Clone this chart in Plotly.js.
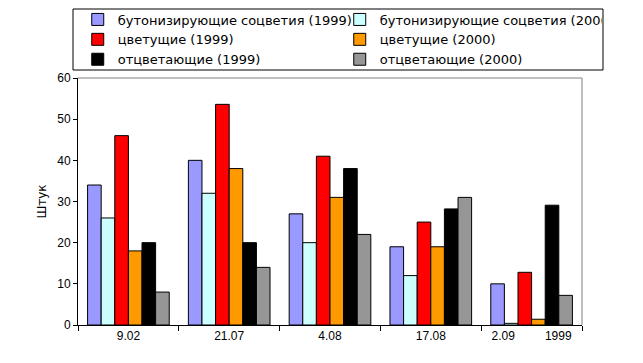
<!DOCTYPE html>
<html>
<head>
<meta charset="utf-8">
<script src="https://cdn.plot.ly/plotly-3.0.1.min.js"></script>
<style>
html,body{margin:0;padding:0;background:#fff;}
#chart{width:643px;height:363px;}
</style>
</head>
<body>
<div id="chart"></div>
<script>
const categories = ["9.02", "21.07", "4.08", "17.08", "2.09\u00a0\u00a0\u00a0\u00a0\u00a0\u00a0\u00a0\u00a0\u00a01999"];
const seriesNames = [
  "бутонизирующие соцветия (1999)",
  "бутонизирующие соцветия (2000)",
  "цветущие (1999)",
  "цветущие (2000)",
  "отцветающие (1999)",
  "отцветающие (2000)"
];
const budding1999 = [34, 40, 27, 19, 10];
const budding2000 = [26, 32, 20, 12, 0.4];
const flowering1999 = [46, 53.6, 41, 25, 12.8];
const flowering2000 = [18, 38, 31, 19, 1.4];
const faded1999 = [20, 20, 38, 28.2, 29.1];
const faded2000 = [8, 14, 22, 31, 7.2];
const seriesColors = ["#9999FF", "#CCFFFF", "#FF0000", "#FF9900", "#000000", "#969696"];
const yTitle = "Штук";

const values = [budding1999, budding2000, flowering1999, flowering2000, faded1999, faded2000];
const traces = values.map((v, i) => ({
  type: "bar",
  x: categories,
  y: v,
  name: seriesNames[i],
  marker: {color: seriesColors[i], line: {color: "#000000", width: 1}},
  hoverinfo: "x+y+name"
}));

const layout = {
  width: 643,
  height: 363,
  margin: {l: 78, r: 61, t: 78, b: 38, autoexpand: false},
  paper_bgcolor: "#ffffff",
  plot_bgcolor: "#ffffff",
  barmode: "group",
  bargap: 0.19,
  bargroupgap: 0,
  font: {family: "Liberation Sans, Arial, sans-serif", size: 12, color: "#000"},
  xaxis: {
    type: "category",
    showline: true, linecolor: "#000", linewidth: 1,
    ticks: "outside", ticklen: 5, tickcolor: "#000", tickson: "boundaries",
    showgrid: false, zeroline: false,
    tickfont: {family: "Liberation Sans, Arial, sans-serif", size: 12}
  },
  yaxis: {
    range: [0, 60], dtick: 10,
    showline: true, linecolor: "#000", linewidth: 1,
    ticks: "outside", ticklen: 4, tickcolor: "#000",
    showgrid: false, zeroline: false,
    tickfont: {family: "Liberation Sans, Arial, sans-serif", size: 12},
    title: {text: yTitle, font: {family: "DejaVu Sans, sans-serif", size: 12}, standoff: 8}
  },
  shapes: [
    {type: "line", xref: "paper", yref: "paper", x0: 0, x1: 1, y0: 1, y1: 1, line: {color: "#808080", width: 1}},
    {type: "line", xref: "paper", yref: "paper", x0: 1, x1: 1, y0: 0, y1: 1, line: {color: "#808080", width: 1}},
    {type: "rect", xref: "paper", yref: "paper", layer: "above",
     x0: -5 / 504, x1: 525 / 504, y0: 1 + 8 / 247, y1: 1 + 69 / 247,
     fillcolor: "#ffffff", line: {color: "#000000", width: 1}}
  ],
  showlegend: true,
  legend: {
    orientation: "h",
    x: -0.0005, y: 1 + 73.5 / 247, xanchor: "left", yanchor: "top",
    bgcolor: "rgba(0,0,0,0)", borderwidth: 0,
    entrywidth: 217, entrywidthmode: "pixels",
    itemwidth: 30,
    tracegroupgap: 0,
    font: {family: "DejaVu Sans, sans-serif", size: 13, color: "#000"}
  }
};

Plotly.newPlot("chart", traces, layout, {displayModeBar: false, staticPlot: true});
</script>
</body>
</html>
